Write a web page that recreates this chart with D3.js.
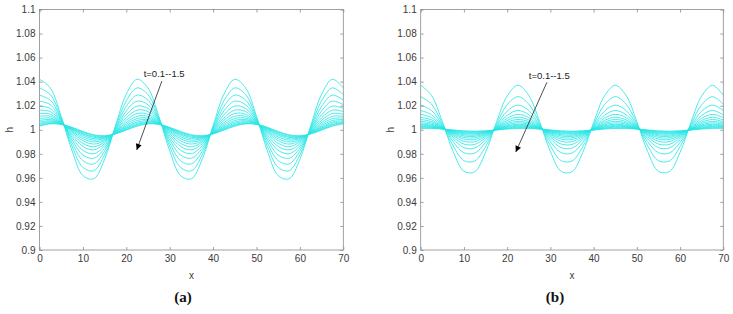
<!DOCTYPE html>
<html><head><meta charset="utf-8">
<script src="https://cdn.jsdelivr.net/npm/d3@7"></script>
<style>body{margin:0;background:#fff}svg{display:block}</style>
</head><body><svg id="c" width="733" height="314"></svg>
<script>
// ---------- data ----------
const xValues = [0,2.5,5,7.5,10,12.5,15,17.5,20,22.5,25,27.5,30,32.5,35,37.5,40,42.5,45,47.5,50,52.5,55,57.5,60,62.5,65,67.5,70];
const timeLabels = ["0.1","0.2","0.3","0.4","0.5","0.6","0.7","0.8","0.9","1.0","1.1","1.2","1.3","1.4","1.5"];
const xTicks = [0,10,20,30,40,50,60,70];
const xTickLabels = ["0","10","20","30","40","50","60","70"];
const yTicks = [0.9,0.92,0.94,0.96,0.98,1.0,1.02,1.04,1.06,1.08,1.1];
const yTickLabels = ["0.9","0.92","0.94","0.96","0.98","1","1.02","1.04","1.06","1.08","1.1"];
const xLabel = "x";
const yLabel = "h";
const annotationText = "t=0.1--1.5";
const panelLabels = ["(a)","(b)"];

// panel (a): h(x) for t = 0.1 ... 1.5
const seriesA = [
[1.0420,1.0347,1.0112,0.9825,0.9619,0.9592,0.9755,1.0034,1.0296,1.0420,1.0347,1.0112,0.9825,0.9619,0.9592,0.9755,1.0034,1.0296,1.0420,1.0347,1.0112,0.9825,0.9619,0.9592,0.9755,1.0034,1.0296,1.0420,1.0347],
[1.0348,1.0292,1.0100,0.9861,0.9687,0.9659,0.9791,1.0021,1.0241,1.0348,1.0292,1.0100,0.9861,0.9687,0.9659,0.9791,1.0021,1.0241,1.0348,1.0292,1.0100,0.9861,0.9687,0.9659,0.9791,1.0021,1.0241,1.0348,1.0292],
[1.0288,1.0246,1.0089,0.9891,0.9743,0.9716,0.9821,1.0011,1.0195,1.0288,1.0246,1.0089,0.9891,0.9743,0.9716,0.9821,1.0011,1.0195,1.0288,1.0246,1.0089,0.9891,0.9743,0.9716,0.9821,1.0011,1.0195,1.0288,1.0246],
[1.0238,1.0208,1.0081,0.9916,0.9790,0.9763,0.9846,1.0002,1.0157,1.0238,1.0208,1.0081,0.9916,0.9790,0.9763,0.9846,1.0002,1.0157,1.0238,1.0208,1.0081,0.9916,0.9790,0.9763,0.9846,1.0002,1.0157,1.0238,1.0208],
[1.0197,1.0177,1.0074,0.9936,0.9829,0.9801,0.9867,0.9995,1.0125,1.0197,1.0177,1.0074,0.9936,0.9829,0.9801,0.9867,0.9995,1.0125,1.0197,1.0177,1.0074,0.9936,0.9829,0.9801,0.9867,0.9995,1.0125,1.0197,1.0177],
[1.0163,1.0151,1.0068,0.9953,0.9861,0.9833,0.9884,0.9989,1.0099,1.0163,1.0151,1.0068,0.9953,0.9861,0.9833,0.9884,0.9989,1.0099,1.0163,1.0151,1.0068,0.9953,0.9861,0.9833,0.9884,0.9989,1.0099,1.0163,1.0151],
[1.0135,1.0129,1.0063,0.9967,0.9887,0.9859,0.9898,0.9984,1.0078,1.0135,1.0129,1.0063,0.9967,0.9887,0.9859,0.9898,0.9984,1.0078,1.0135,1.0129,1.0063,0.9967,0.9887,0.9859,0.9898,0.9984,1.0078,1.0135,1.0129],
[1.0112,1.0112,1.0059,0.9979,0.9909,0.9881,0.9909,0.9980,1.0060,1.0112,1.0112,1.0059,0.9979,0.9909,0.9881,0.9909,0.9980,1.0060,1.0112,1.0112,1.0059,0.9979,0.9909,0.9881,0.9909,0.9980,1.0060,1.0112,1.0112],
[1.0093,1.0097,1.0056,0.9988,0.9926,0.9899,0.9919,0.9977,1.0046,1.0093,1.0097,1.0056,0.9988,0.9926,0.9899,0.9919,0.9977,1.0046,1.0093,1.0097,1.0056,0.9988,0.9926,0.9899,0.9919,0.9977,1.0046,1.0093,1.0097],
[1.0077,1.0085,1.0053,0.9996,0.9941,0.9914,0.9927,0.9974,1.0033,1.0077,1.0085,1.0053,0.9996,0.9941,0.9914,0.9927,0.9974,1.0033,1.0077,1.0085,1.0053,0.9996,0.9941,0.9914,0.9927,0.9974,1.0033,1.0077,1.0085],
[1.0064,1.0075,1.0051,1.0003,0.9954,0.9926,0.9933,0.9972,1.0023,1.0064,1.0075,1.0051,1.0003,0.9954,0.9926,0.9933,0.9972,1.0023,1.0064,1.0075,1.0051,1.0003,0.9954,0.9926,0.9933,0.9972,1.0023,1.0064,1.0075],
[1.0053,1.0066,1.0049,1.0008,0.9964,0.9937,0.9939,0.9970,1.0015,1.0053,1.0066,1.0049,1.0008,0.9964,0.9937,0.9939,0.9970,1.0015,1.0053,1.0066,1.0049,1.0008,0.9964,0.9937,0.9939,0.9970,1.0015,1.0053,1.0066],
[1.0044,1.0059,1.0047,1.0013,0.9972,0.9945,0.9943,0.9968,1.0008,1.0044,1.0059,1.0047,1.0013,0.9972,0.9945,0.9943,0.9968,1.0008,1.0044,1.0059,1.0047,1.0013,0.9972,0.9945,0.9943,0.9968,1.0008,1.0044,1.0059],
[1.0036,1.0053,1.0046,1.0017,0.9980,0.9953,0.9947,0.9967,1.0002,1.0036,1.0053,1.0046,1.0017,0.9980,0.9953,0.9947,0.9967,1.0002,1.0036,1.0053,1.0046,1.0017,0.9980,0.9953,0.9947,0.9967,1.0002,1.0036,1.0053],
[1.0030,1.0049,1.0045,1.0020,0.9986,0.9958,0.9950,0.9966,0.9997,1.0030,1.0049,1.0045,1.0020,0.9986,0.9958,0.9950,0.9966,0.9997,1.0030,1.0049,1.0045,1.0020,0.9986,0.9958,0.9950,0.9966,0.9997,1.0030,1.0049]
];

// panel (b): h(x) for t = 0.1 ... 1.5
const seriesB = [
[1.0370,1.0286,1.0068,0.9819,0.9654,0.9651,0.9812,1.0060,1.0281,1.0370,1.0286,1.0068,0.9819,0.9654,0.9651,0.9812,1.0060,1.0281,1.0370,1.0286,1.0068,0.9819,0.9654,0.9651,0.9812,1.0060,1.0281,1.0370,1.0286],
[1.0275,1.0213,1.0052,0.9866,0.9743,0.9740,0.9859,1.0044,1.0208,1.0275,1.0213,1.0052,0.9866,0.9743,0.9740,0.9859,1.0044,1.0208,1.0275,1.0213,1.0052,0.9866,0.9743,0.9740,0.9859,1.0044,1.0208,1.0275,1.0213],
[1.0205,1.0160,1.0040,0.9901,0.9809,0.9806,0.9894,1.0032,1.0154,1.0205,1.0160,1.0040,0.9901,0.9809,0.9806,0.9894,1.0032,1.0154,1.0205,1.0160,1.0040,0.9901,0.9809,0.9806,0.9894,1.0032,1.0154,1.0205,1.0160],
[1.0160,1.0125,1.0032,0.9924,0.9851,0.9848,0.9917,1.0024,1.0120,1.0160,1.0125,1.0032,0.9924,0.9851,0.9848,0.9917,1.0024,1.0120,1.0160,1.0125,1.0032,0.9924,0.9851,0.9848,0.9917,1.0024,1.0120,1.0160,1.0125],
[1.0128,1.0101,1.0026,0.9940,0.9881,0.9878,0.9933,1.0018,1.0095,1.0128,1.0101,1.0026,0.9940,0.9881,0.9878,0.9933,1.0018,1.0095,1.0128,1.0101,1.0026,0.9940,0.9881,0.9878,0.9933,1.0018,1.0095,1.0128,1.0101],
[1.0104,1.0082,1.0022,0.9952,0.9904,0.9901,0.9945,1.0014,1.0077,1.0104,1.0082,1.0022,0.9952,0.9904,0.9901,0.9945,1.0014,1.0077,1.0104,1.0082,1.0022,0.9952,0.9904,0.9901,0.9945,1.0014,1.0077,1.0104,1.0082],
[1.0085,1.0068,1.0019,0.9961,0.9922,0.9919,0.9954,1.0011,1.0063,1.0085,1.0068,1.0019,0.9961,0.9922,0.9919,0.9954,1.0011,1.0063,1.0085,1.0068,1.0019,0.9961,0.9922,0.9919,0.9954,1.0011,1.0063,1.0085,1.0068],
[1.0070,1.0056,1.0016,0.9969,0.9936,0.9933,0.9962,1.0008,1.0051,1.0070,1.0056,1.0016,0.9969,0.9936,0.9933,0.9962,1.0008,1.0051,1.0070,1.0056,1.0016,0.9969,0.9936,0.9933,0.9962,1.0008,1.0051,1.0070,1.0056],
[1.0057,1.0046,1.0014,0.9975,0.9948,0.9945,0.9968,1.0006,1.0041,1.0057,1.0046,1.0014,0.9975,0.9948,0.9945,0.9968,1.0006,1.0041,1.0057,1.0046,1.0014,0.9975,0.9948,0.9945,0.9968,1.0006,1.0041,1.0057,1.0046],
[1.0046,1.0038,1.0012,0.9981,0.9958,0.9955,0.9974,1.0004,1.0033,1.0046,1.0038,1.0012,0.9981,0.9958,0.9955,0.9974,1.0004,1.0033,1.0046,1.0038,1.0012,0.9981,0.9958,0.9955,0.9974,1.0004,1.0033,1.0046,1.0038],
[1.0037,1.0031,1.0010,0.9985,0.9967,0.9964,0.9978,1.0003,1.0026,1.0037,1.0031,1.0010,0.9985,0.9967,0.9964,0.9978,1.0003,1.0026,1.0037,1.0031,1.0010,0.9985,0.9967,0.9964,0.9978,1.0003,1.0026,1.0037,1.0031],
[1.0029,1.0025,1.0009,0.9989,0.9974,0.9971,0.9982,1.0001,1.0020,1.0029,1.0025,1.0009,0.9989,0.9974,0.9971,0.9982,1.0001,1.0020,1.0029,1.0025,1.0009,0.9989,0.9974,0.9971,0.9982,1.0001,1.0020,1.0029,1.0025],
[1.0022,1.0020,1.0008,0.9993,0.9981,0.9978,0.9986,1.0000,1.0014,1.0022,1.0020,1.0008,0.9993,0.9981,0.9978,0.9986,1.0000,1.0014,1.0022,1.0020,1.0008,0.9993,0.9981,0.9978,0.9986,1.0000,1.0014,1.0022,1.0020],
[1.0016,1.0015,1.0007,0.9996,0.9986,0.9984,0.9989,0.9999,1.0010,1.0016,1.0015,1.0007,0.9996,0.9986,0.9984,0.9989,0.9999,1.0010,1.0016,1.0015,1.0007,0.9996,0.9986,0.9984,0.9989,0.9999,1.0010,1.0016,1.0015],
[1.0011,1.0011,1.0006,0.9998,0.9991,0.9988,0.9991,0.9998,1.0006,1.0011,1.0011,1.0006,0.9998,0.9991,0.9988,0.9991,0.9998,1.0006,1.0011,1.0011,1.0006,0.9998,0.9991,0.9988,0.9991,0.9998,1.0006,1.0011,1.0011]
];

// ---------- layout ----------
const svg = d3.select("#c");
const plotTop = 9.5, plotBottom = 250;
const panels = [
  {series: seriesA, left: 39.5, right: 343.3, label: panelLabels[0], labelX: 183,
   arrow: {x1: 28.2, y1: 1.0405, x2: 22.4, y2: 0.9832}, text: {x: 24.0, y: 1.0436}},
  {series: seriesB, left: 420.7, right: 723.3, label: panelLabels[1], labelX: 555,
   arrow: {x1: 29.2, y1: 1.0395, x2: 22.0, y2: 0.9815}, text: {x: 25.0, y: 1.0418}}
];

const defs = svg.append("defs");
defs.append("marker").attr("id","ah").attr("viewBox","0 0 10 10")
  .attr("refX",10).attr("refY",5).attr("markerWidth",7).attr("markerHeight",6)
  .attr("markerUnits","userSpaceOnUse").attr("orient","auto")
  .append("path").attr("d","M0,0 L10,5 L0,10 z").attr("fill","#000");

const font = "'Liberation Sans', Arial, Helvetica, sans-serif";
const axisColor = "#8a8a8a";
const textColor = "#3a3a3a";

panels.forEach((p, pi) => {
  const x = d3.scaleLinear().domain([0,70]).range([p.left, p.right]);
  const y = d3.scaleLinear().domain([0.9,1.1]).range([plotBottom, plotTop]);
  const g = svg.append("g");

  const clipId = "clip" + pi;
  defs.append("clipPath").attr("id", clipId).append("rect")
    .attr("x", p.left).attr("y", plotTop).attr("width", p.right - p.left).attr("height", plotBottom - plotTop);

  // curves
  const line = d3.line().x((d,i) => x(xValues[i])).y(d => y(d)).curve(d3.curveCatmullRom.alpha(0.5));
  g.append("g").attr("clip-path", `url(#${clipId})`)
    .selectAll("path").data(p.series).join("path")
    .attr("d", line).attr("fill","none").attr("stroke","#2be6e6").attr("stroke-width",0.85)
    .attr("data-t", (d,i) => timeLabels[i]);

  // axes
  const styleAxis = sel => {
    sel.select(".domain").remove();
    sel.selectAll(".tick line").attr("stroke", axisColor).attr("stroke-width", 0.8);
    sel.selectAll(".tick text").attr("fill", textColor).style("font-family", font).style("font-size","10px");
  };
  g.append("g").attr("transform", `translate(0,${plotBottom})`)
    .call(d3.axisBottom(x).tickValues(xTicks).tickFormat((d,i)=>xTickLabels[i]).tickSize(-3).tickPadding(5)).call(styleAxis);
  g.append("g").attr("transform", `translate(0,${plotTop})`)
    .call(d3.axisTop(x).tickValues(xTicks).tickFormat("").tickSize(-3)).call(styleAxis);
  g.append("g").attr("transform", `translate(${p.left},0)`)
    .call(d3.axisLeft(y).tickValues(yTicks).tickFormat((d,i)=>yTickLabels[i]).tickSize(-3).tickPadding(4)).call(styleAxis);
  g.append("g").attr("transform", `translate(${p.right},0)`)
    .call(d3.axisRight(y).tickValues(yTicks).tickFormat("").tickSize(-3)).call(styleAxis);

  g.append("rect").attr("x", p.left).attr("y", plotTop).attr("width", p.right - p.left).attr("height", plotBottom - plotTop)
    .attr("fill","none").attr("stroke", axisColor).attr("stroke-width", 0.8);

  // axis labels
  g.append("text").attr("x", (p.left + p.right)/2).attr("y", 279).attr("text-anchor","middle")
    .style("font-family", font).style("font-size","10px").attr("fill", textColor).text(xLabel);
  g.append("text").attr("transform", `translate(${p.left - 27},${y(1)}) rotate(-90)`).attr("text-anchor","middle")
    .style("font-family", font).style("font-size","10px").attr("fill", textColor).text(yLabel);

  // annotation
  g.append("line").attr("x1", x(p.arrow.x1)).attr("y1", y(p.arrow.y1))
    .attr("x2", x(p.arrow.x2)).attr("y2", y(p.arrow.y2))
    .attr("stroke","#222").attr("stroke-width",0.8).attr("marker-end","url(#ah)");
  g.append("text").attr("x", x(p.text.x)).attr("y", y(p.text.y))
    .style("font-family", font).style("font-size","9.5px").attr("fill","#222").text(annotationText);

  // panel label
  g.append("text").attr("x", p.labelX).attr("y", 302).attr("text-anchor","middle")
    .style("font-family","'Liberation Serif','DejaVu Serif',serif").style("font-size","15px").style("font-weight","bold")
    .attr("fill","#111").text(p.label);
});
</script></body></html>
